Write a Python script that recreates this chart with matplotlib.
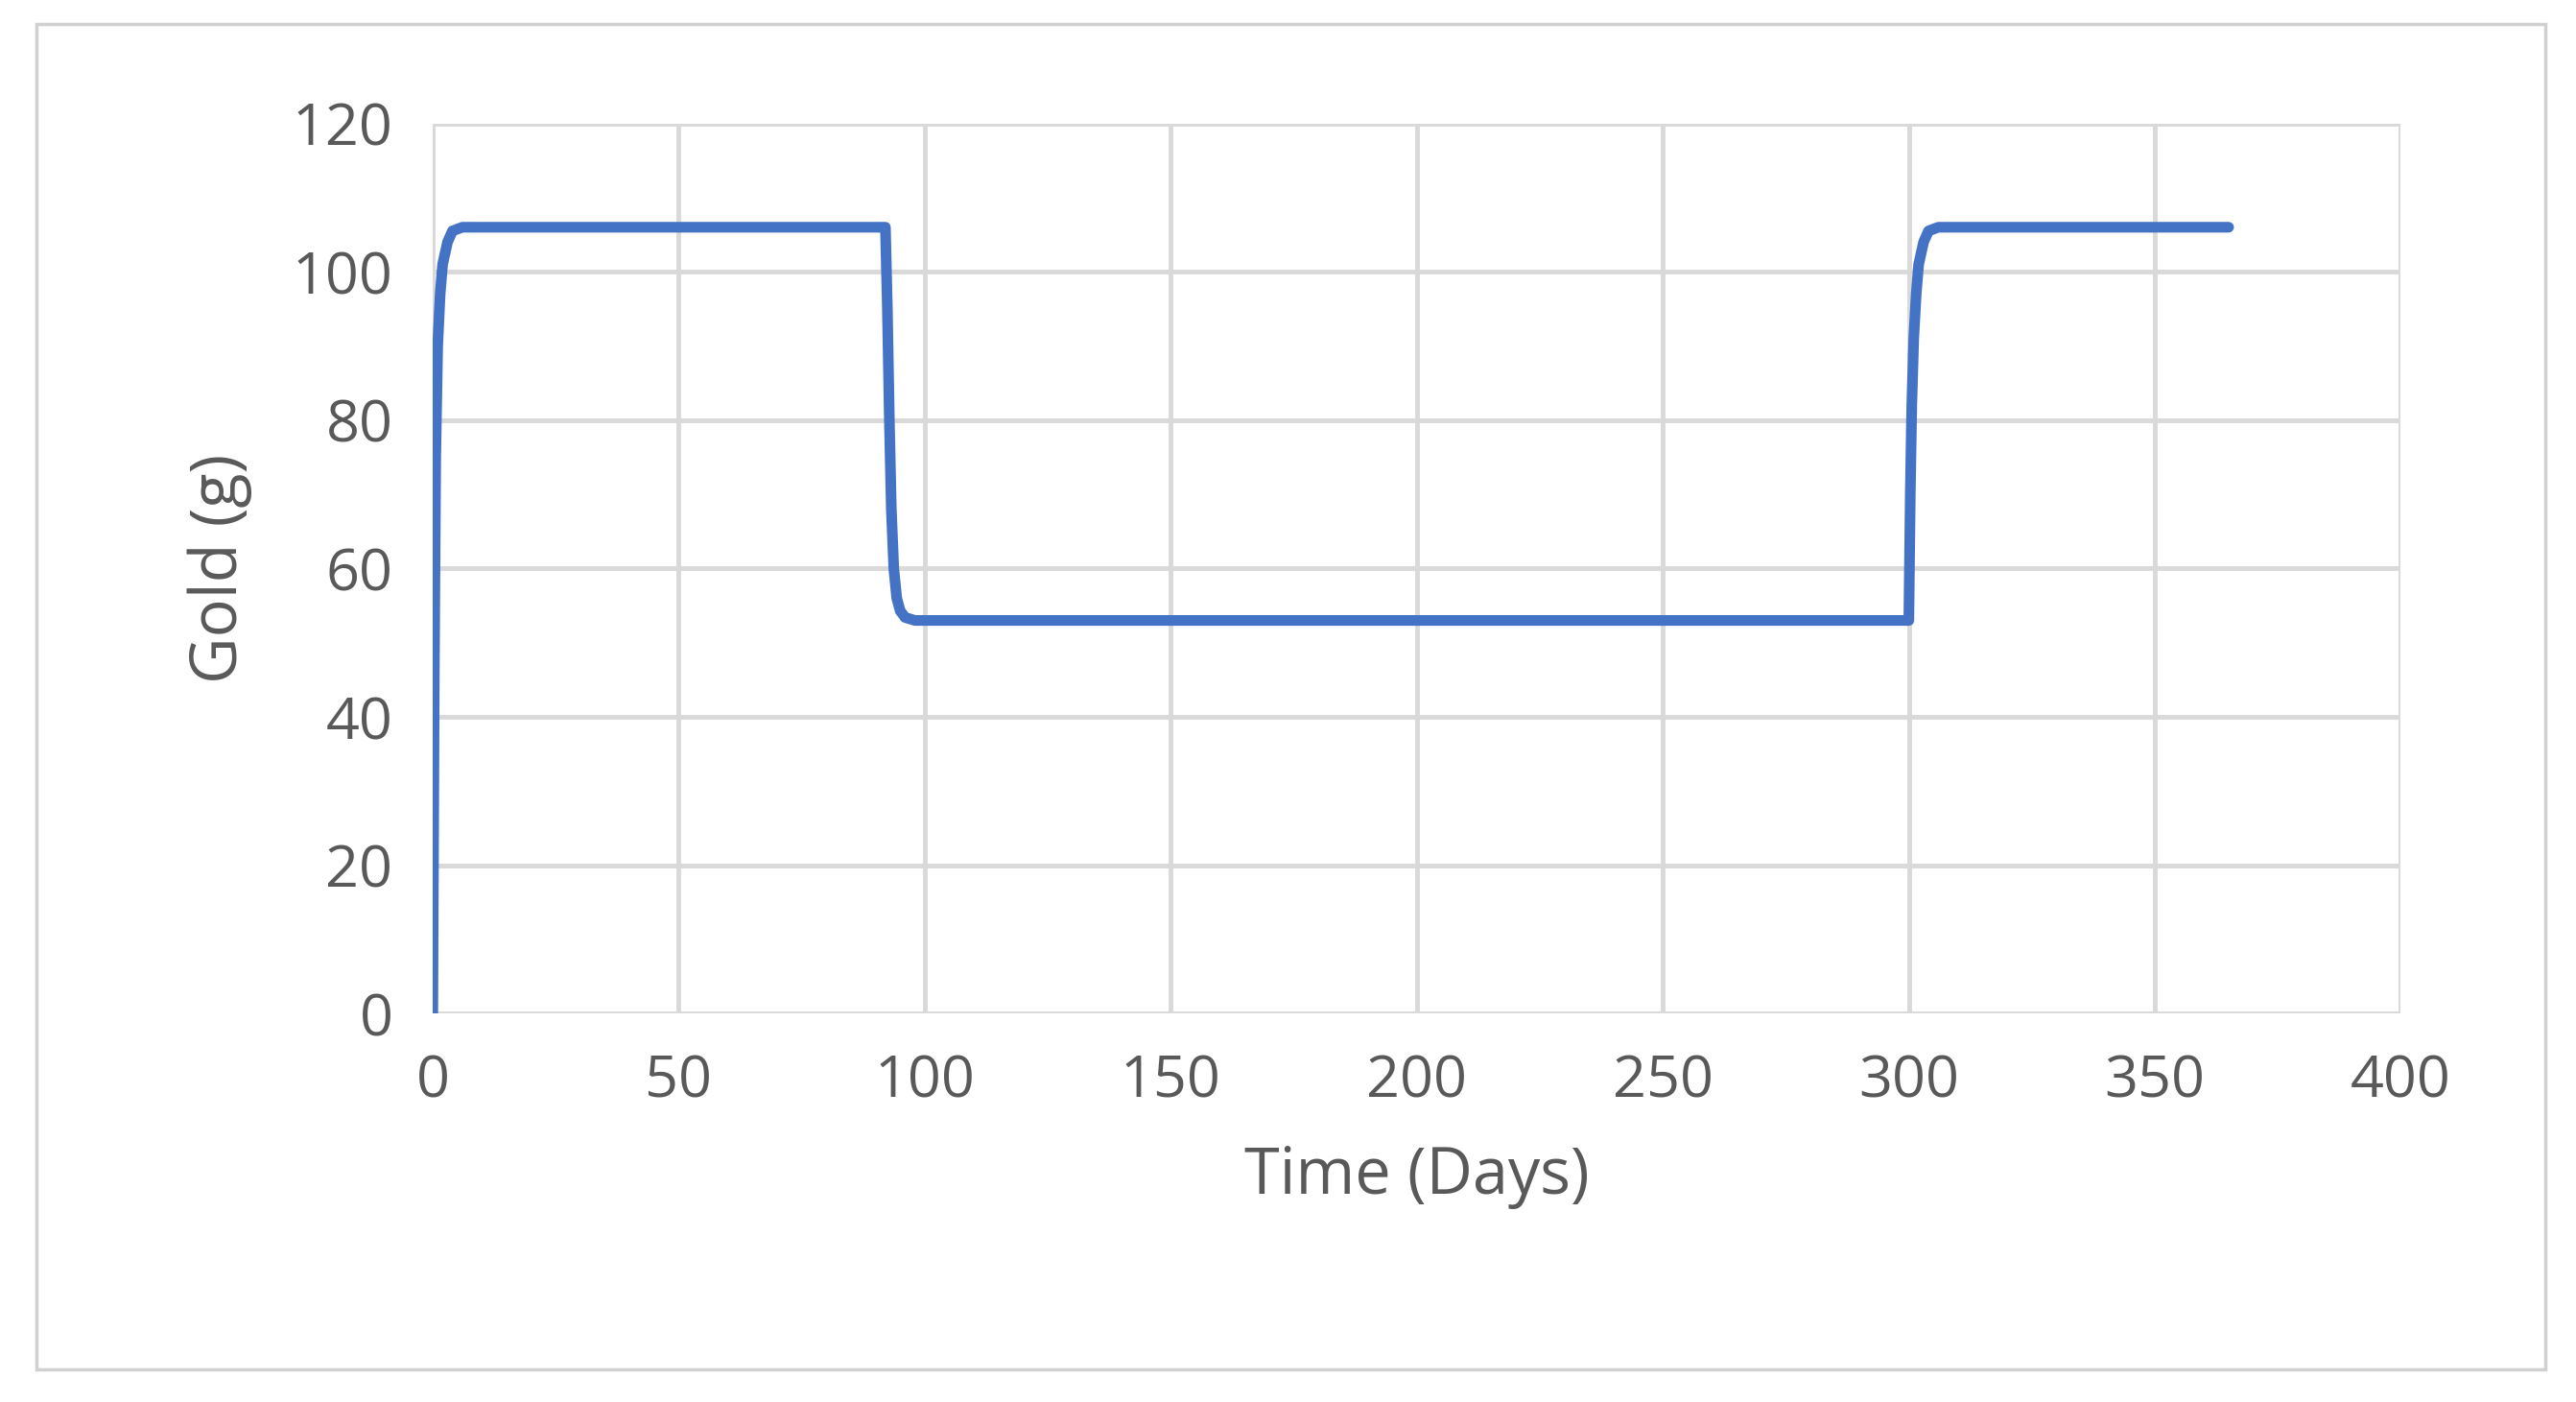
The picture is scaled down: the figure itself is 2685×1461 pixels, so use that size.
import matplotlib
matplotlib.use("Agg")
import matplotlib.pyplot as plt
from matplotlib.patches import Rectangle

days = [0, 0.3, 0.6, 1, 1.5, 2, 3, 4, 6, 92, 92.4, 92.8, 93.2, 93.7, 94.3, 95, 96, 98,
        300, 300.3, 300.6, 301, 301.5, 302, 303, 304, 306, 365]
gold = [0, 45, 75, 90, 97, 101, 104, 105.5, 106, 106, 95, 80, 68, 60, 56, 54.3, 53.4, 53,
        53, 70, 82, 91, 97, 101, 104, 105.5, 106, 106]
xticks = [0, 50, 100, 150, 200, 250, 300, 350, 400]
yticks = [0, 20, 40, 60, 80, 100, 120]

plt.rcParams['font.family'] = ['Open Sans', 'DejaVu Sans']
fig = plt.figure(figsize=(26.85, 14.61), dpi=100)
fig.patches.append(Rectangle((0.014, 0.023), 0.974, 0.96, transform=fig.transFigure,
                             fill=False, edgecolor='#d0d0d0', linewidth=2.5))
ax = fig.add_axes([0.168, 0.277, 0.764, 0.635])
ax.plot(days, gold, color='#4472c4', linewidth=8, solid_capstyle='round')
ax.set_xlim(0, 400); ax.set_ylim(0, 120)
ax.set_xticks(xticks); ax.set_yticks(yticks)
ax.grid(color='#d9d9d9', linewidth=3.5)
ax.set_axisbelow(True)
for s in ax.spines.values():
    s.set_visible(False)
ax.tick_params(length=0, labelsize=44, labelcolor='#595959', pad=30)
ax.set_xlabel('Time (Days)', fontsize=48, color='#595959', labelpad=25)
ax.set_ylabel('Gold (g)', fontsize=48, color='#595959', labelpad=30)
fig.savefig('out.png', dpi=100)
